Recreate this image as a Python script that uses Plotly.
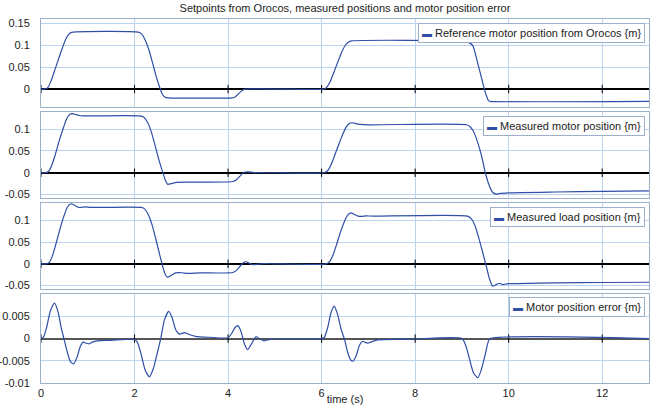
import plotly.graph_objects as go

# ---------------- data ----------------
t_ref = [0, 0.08, 0.15, 0.22, 0.30, 0.38, 0.46, 0.54, 0.61, 0.68,
         2.08, 2.15, 2.22, 2.30, 2.38, 2.46, 2.54, 2.60, 2.66, 2.72,
         4.08, 4.15, 4.22, 4.30, 4.36,
         6.04, 6.10, 6.18, 6.26, 6.34, 6.42, 6.50, 6.57, 6.64,
         9.00, 9.08, 9.15, 9.23, 9.36, 9.48, 9.54, 9.57, 9.60, 13.0]
ref_pos = [0, 0, 0.004, 0.020, 0.045, 0.070, 0.095, 0.116, 0.127, 0.130,
           0.130, 0.126, 0.114, 0.092, 0.062, 0.030, 0.003, -0.013, -0.019, -0.020,
           -0.020, -0.018, -0.011, -0.003, 0.0,
           0.0, 0.003, 0.016, 0.038, 0.060, 0.082, 0.099, 0.107, 0.110,
           0.110, 0.109, 0.106, 0.100, 0.050, 0.000, -0.020, -0.027, -0.028, -0.028]

t_motor = [0, 0.10, 0.17, 0.24, 0.32, 0.40, 0.48, 0.55, 0.62, 0.68, 0.75, 0.85, 1.0,
           2.10, 2.20, 2.28, 2.36, 2.44, 2.52, 2.60, 2.66, 2.71, 2.78, 2.90, 3.20,
           4.10, 4.18, 4.26, 4.34, 4.42, 4.55, 5.0,
           6.05, 6.12, 6.20, 6.28, 6.36, 6.44, 6.52, 6.60, 6.66, 6.75, 6.90,
           9.10, 9.17, 9.24, 9.30, 9.41, 9.50, 9.58, 9.65, 9.73, 9.80,
           10.0, 11.0, 12.0, 13.0]
motor_pos = [0, 0, 0.004, 0.020, 0.047, 0.077, 0.103, 0.124, 0.134, 0.1355, 0.133, 0.1305, 0.130,
             0.130, 0.127, 0.115, 0.093, 0.062, 0.030, 0.002, -0.017, -0.0265, -0.025, -0.022, -0.0215,
             -0.020, -0.016, -0.007, 0.001, 0.002, 0.0005, 0.0,
             0.0, 0.004, 0.018, 0.040, 0.063, 0.085, 0.104, 0.1135, 0.1145, 0.112, 0.110,
             0.110, 0.106, 0.096, 0.081, 0.043, 0.000, -0.028, -0.044, -0.049, -0.0475,
             -0.046, -0.044, -0.0425, -0.0415]

t_load = [0, 0.12, 0.18, 0.25, 0.33, 0.41, 0.49, 0.56, 0.62, 0.66, 0.72, 0.80, 0.88, 0.96, 1.05, 1.2,
          2.15, 2.22, 2.30, 2.38, 2.46, 2.54, 2.60, 2.66, 2.71, 2.78, 2.88, 3.0, 3.15, 3.4,
          4.10, 4.18, 4.26, 4.33, 4.39, 4.46, 4.54, 4.62, 4.75, 5.0,
          6.10, 6.17, 6.25, 6.33, 6.41, 6.49, 6.56, 6.63, 6.70, 6.78, 6.86, 6.95, 7.1,
          9.12, 9.20, 9.28, 9.36, 9.44, 9.52, 9.59, 9.66, 9.73, 9.80, 9.88, 9.96, 10.2,
          11.0, 12.0, 13.0]
load_pos = [0, 0, 0.004, 0.020, 0.050, 0.082, 0.110, 0.130, 0.1375, 0.138, 0.135, 0.130, 0.1305, 0.1315, 0.130, 0.130,
            0.130, 0.126, 0.112, 0.088, 0.055, 0.020, -0.005, -0.025, -0.031, -0.027, -0.021, -0.0205, -0.022, -0.021,
            -0.020, -0.015, -0.005, 0.003, 0.0048, 0.001, -0.002, -0.001, 0.0005, 0.0,
            0.0, 0.005, 0.022, 0.048, 0.075, 0.098, 0.113, 0.1175, 0.114, 0.110, 0.1095, 0.1105, 0.110,
            0.110, 0.104, 0.088, 0.060, 0.028, -0.005, -0.035, -0.0515, -0.048, -0.0447, -0.048, -0.046, -0.0455,
            -0.044, -0.043, -0.0424]

t_err = [0, 0.05, 0.12, 0.20, 0.29, 0.37, 0.43, 0.49, 0.56, 0.63, 0.70, 0.77, 0.84, 0.90, 0.96, 1.03, 1.10, 1.20, 1.5,
         2.0, 2.06, 2.14, 2.23, 2.32, 2.40, 2.48, 2.56, 2.64, 2.73, 2.80, 2.88, 2.96, 3.07, 3.2, 3.3, 3.6,
         4.0, 4.08, 4.15, 4.21, 4.28, 4.35, 4.42, 4.50, 4.60, 4.68, 4.77, 4.9, 5.1,
         6.0, 6.06, 6.13, 6.20, 6.27, 6.34, 6.42, 6.49, 6.56, 6.62, 6.67, 6.74, 6.81, 6.88, 6.94, 7.0, 7.1, 7.2, 8.0,
         9.0, 9.08, 9.16, 9.25, 9.34, 9.42, 9.50, 9.56, 9.60, 13.0]
err = [0, 0.0003, 0.0025, 0.0062, 0.0080, 0.0058, 0.0025, 0.0, -0.0030, -0.0052, -0.0057, -0.0042, -0.0018,
       -0.0008, -0.0010, -0.0012, -0.0008, -0.0005, -0.0004,
       -0.0002, -0.0008, -0.0035, -0.0072, -0.0086, -0.0068, -0.0035, 0.0, 0.0042, 0.0061, 0.0048, 0.0020,
       0.0010, 0.00135, 0.0008, 0.0005, 0.0003,
       0.0002, 0.0012, 0.0025, 0.0029, 0.0015, -0.0012, -0.0025, -0.0012, 0.00045, -0.0001, -0.0005, -0.0002, -0.0001,
       0.0, 0.0003, 0.0025, 0.0058, 0.0073, 0.0055, 0.0020, -0.0002, -0.0032, -0.0048, -0.0051, -0.0038, -0.0015,
       -0.0006, -0.0009, -0.0010, -0.0006, -0.0003, -0.0001,
       0.0, -0.0015, -0.0045, -0.0078, -0.0088, -0.0068, -0.0035, -0.0008, 0.0, 0.0]

series_names = ["Reference motor position from Orocos {m}",
                "Measured motor position {m}",
                "Measured load position {m}",
                "Motor position error {m}"]

x_ticks = [0, 2, 4, 6, 8, 10, 12]
x_range = [0, 13]

y_ranges = [[-0.04, 0.16], [-0.058, 0.14], [-0.058, 0.14], [-0.01, 0.0101]]
y_tickvals = [[0, 0.05, 0.1, 0.15],
              [-0.05, 0, 0.05, 0.1],
              [-0.05, 0, 0.05, 0.1],
              [-0.01, -0.005, 0, 0.005]]
y_ticktext = [["0", "0.05", "0.1", "0.15"],
              ["-0.05", "0", "0.05", "0.1"],
              ["-0.05", "0", "0.05", "0.1"],
              ["-0.01", "-0.005", "0", "0.005"]]

# ---------------- style ----------------
W, H = 653, 405
M_L, M_R, M_T, M_B = 41, 4, 19, 21.6
plot_h = H - M_T - M_B
LINE = "#2f4ea6"
GRID = "#bad3ee"
BORDER = "#9cb0c9"
FONT = "Liberation Sans, Arial, sans-serif"

# panel pixel extents (top, bottom) in figure pixels
panels_px = [(19, 106.7), (111.7, 198.3), (203.3, 289.3), (294, 383.4)]
legend_top_px = [23.3, 115.7, 207, 297.3]
legend_right_px = 645

def py(p):
    return (H - M_B - p) / plot_h

fig = go.Figure()
xs = [t_ref, t_motor, t_load, t_err]
ys = [ref_pos, motor_pos, load_pos, err]

for i in range(4):
    n = "" if i == 0 else str(i + 1)
    xa, ya = "x" + n, "y" + n
    # tick marks crossing the zero line
    fig.add_trace(go.Scatter(
        x=x_ticks, y=[0] * len(x_ticks), mode="markers", xaxis=xa, yaxis=ya,
        marker=dict(symbol="line-ns", size=6, line=dict(width=1, color="#000")),
        showlegend=False, hoverinfo="skip"))
    # the data curve
    fig.add_trace(go.Scatter(
        x=xs[i], y=ys[i], mode="lines", xaxis=xa, yaxis=ya,
        line=dict(color=LINE, width=1.2, shape="spline", smoothing=0.6),
        name=series_names[i], showlegend=False))

    top, bot = panels_px[i]
    fig.layout["xaxis" + n] = dict(
        domain=[0, 1], anchor=ya, range=x_range, tickvals=x_ticks,
        showgrid=True, gridcolor=GRID, gridwidth=1, zeroline=False,
        showline=True, mirror=True, linecolor=BORDER, linewidth=1,
        showticklabels=(i == 3), ticks="", automargin=False,
        tickfont=dict(family=FONT, size=11, color="#222"),
        matches=None if i == 0 else "x")
    fig.layout["yaxis" + n] = dict(
        domain=[py(bot), py(top)], anchor=xa, range=y_ranges[i],
        tickvals=y_tickvals[i], ticktext=y_ticktext[i],
        showgrid=True, gridcolor=GRID, gridwidth=1,
        zeroline=True, zerolinecolor=("#000" if i < 3 else "#555"),
        zerolinewidth=(1.5 if i < 3 else 2),
        showline=True, mirror=True, linecolor=BORDER, linewidth=1,
        ticks="", ticklabelstandoff=8, automargin=False,
        tickfont=dict(family=FONT, size=11, color="#222"))
    # legend box for this panel
    fig.add_annotation(
        xref="paper", yref="paper",
        x=(legend_right_px - M_L) / (W - M_L - M_R), xanchor="right",
        y=py(legend_top_px[i]), yanchor="top",
        text=f"<span style='color:{LINE};font-size:10px'><b>▬</b></span> {series_names[i]}",
        showarrow=False, align="left",
        font=dict(family=FONT, size=11, color="#222"),
        bgcolor="#fff", bordercolor=BORDER, borderwidth=1, borderpad=3)

fig.layout.xaxis4.title = dict(text="time (s)", font=dict(family=FONT, size=11, color="#222"),
                               standoff=12)

fig.update_layout(
    width=W, height=H,
    margin=dict(l=M_L, r=M_R, t=M_T, b=M_B, pad=0),
    paper_bgcolor="#fff", plot_bgcolor="#fff",
    title=dict(text="Setpoints from Orocos, measured positions and motor position error",
               x=0.5, xref="paper", y=1 - 8 / H, yanchor="middle", yref="container",
               font=dict(family=FONT, size=11, color="#222")),
    font=dict(family=FONT, size=11),
    showlegend=False,
    hovermode=False,
)

fig.write_html("out.html")
